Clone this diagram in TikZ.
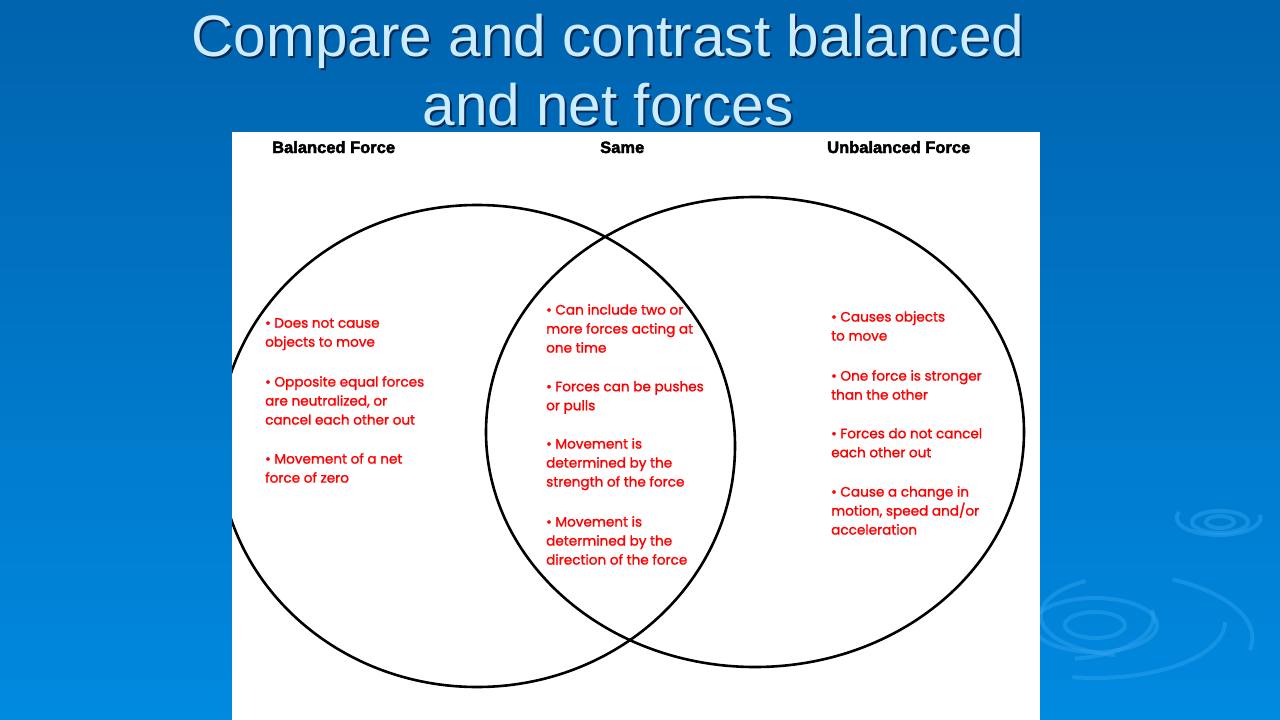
\documentclass[tikz,border=0pt]{standalone}
\usepackage{fontspec}
\usepackage{tikz}
\setmainfont{Liberation Sans}
\newfontfamily\bodyfont[FakeBold=1.4]{Poppins}
\newfontfamily\headfont[BoldFeatures={FakeBold=2.5}]{Liberation Sans}

\begin{document}
\begin{tikzpicture}[x=1pt, y=-1pt, line join=round]
	\tikzstyle{title} = [anchor=base, inner sep=0pt, font=\fontsize{58.5}{70}\selectfont];
	\tikzstyle{head} = [anchor=base west, inner sep=0pt, font=\headfont\bfseries\fontsize{16.5}{18}\selectfont];
	\tikzstyle{item} = [anchor=north west, inner sep=0pt, align=left, text=red, font=\bodyfont\fontsize{13.6}{19}\selectfont];
	\tikzstyle{ring} = [draw={rgb,255:red,50;green,165;blue,240}, opacity=0.45, line width=4pt];
	\tikzstyle{set} = [draw=black, line width=2.6pt];

	\useasboundingbox (0,0) rectangle (1280,720);
	\shade[top color={rgb,255:red,0;green,99;blue,174}, bottom color={rgb,255:red,0;green,138;blue,224}] (0,0) rectangle (1280,720);

	% ripples
	\draw[ring] (1095,625) ellipse (30 and 13);
	\draw[ring] (1095,625) ellipse (62 and 27);
	\draw[ring] (1152,610) arc (-10:80:95 and 42);
	\draw[ring] (1115,655) arc (80:-60:-90 and 40);
	\draw[ring] (1225,622) arc (0:100:130 and 56);
	\draw[ring] (1250,650) arc (10:-60:160 and 68);
	\draw[ring] (1220,522) ellipse (14 and 6);
	\draw[ring] (1220,522) ellipse (28 and 11);
	\draw[ring] (1260,515) arc (-10:200:42 and 17);

	% title
	\node[title, text={rgb,255:red,10;green,40;blue,80}] at (610,58) (t1s) {Compare and contrast balanced};
	\node[title, text={rgb,255:red,10;green,40;blue,80}] at (610,127) (t2s) {and net forces};
	\node[title, text={rgb,255:red,204;green,236;blue,255}] at (608,56) (t1) {Compare and contrast balanced};
	\node[title, text={rgb,255:red,204;green,236;blue,255}] at (608,125) (t2) {and net forces};

	% sheet
	\fill[white] (232,132) rectangle (1040,720);
	\begin{scope}
		\clip (232,132) rectangle (1040,720);
		\draw[set] (477,446) ellipse (258 and 241);
		\draw[set] (755,432) ellipse (269 and 235);
	\end{scope}

	\node[head] at (272,153) (bal) {Balanced Force};
	\node[head] at (600,153) (same) {Same};
	\node[head] at (827,153) (unbal) {Unbalanced Force};

	\node[item] at (265,318) (b1) {• Does not cause\\objects to move};
	\node[item] at (265,376) (b2) {• Opposite equal forces\\are neutralized, or\\cancel each other out};
	\node[item] at (265,453) (b3) {• Movement of a net\\force of zero};

	\node[item] at (546,304) (s1) {• Can include two or\\more forces acting at\\one time};
	\node[item] at (546,381) (s2) {• Forces can be pushes\\or pulls};
	\node[item] at (546,438) (s3) {• Movement is\\determined by the\\strength of the force};
	\node[item] at (546,516) (s4) {• Movement is\\determined by the\\direction of the force};

	\node[item] at (831,311) (u1) {• Causes objects\\to move};
	\node[item] at (831,370) (u2) {• One force is stronger\\than the other};
	\node[item] at (831,428) (u3) {• Forces do not cancel\\each other out};
	\node[item] at (831,486) (u4) {• Cause a change in\\motion, speed and/or\\acceleration};
\end{tikzpicture}
\end{document}
